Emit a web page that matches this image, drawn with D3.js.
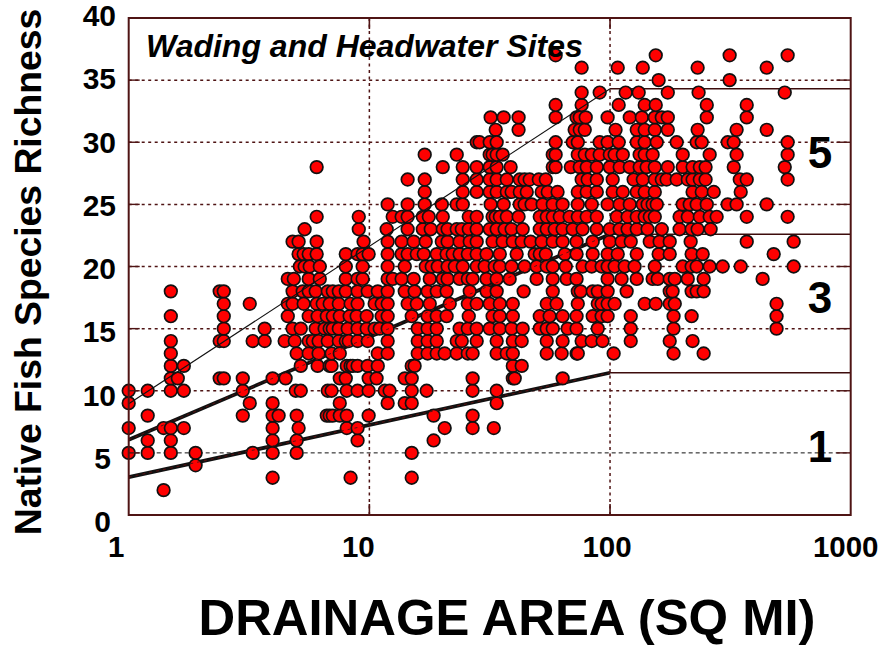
<!DOCTYPE html>
<html><head><meta charset="utf-8">
<style>html,body{margin:0;background:#fff}svg{display:block}text{font-family:"Liberation Sans",Arial,sans-serif;font-weight:bold;fill:#000}</style>
<script src="https://cdn.jsdelivr.net/npm/d3@7"></script></head><body><div id="c"></div>
<script>
// log10(drainage area, sq mi) of each site, grouped by native species count
const a2=[.145];
const a3=[.598,.922,1.176];
const a4=[.278];
const a5=[0,.079,.175,.278,.515,.598,.698,1.176];
const a6=[.079,.175,.598,.698,.951,1.267];
const a7=[0,.145,.175,.229,.598,.706,.906,.951,1.313,1.429,1.517];
const a8=[.079,.474,.598,.623,.698,.823,.835,.848,.877,.906,.997,1.267,1.429];
const a9=[0,.503,.598,.877,1.076,1.147,1.176,1.529];
const a10=[0,.079,.175,.229,.474,.694,.715,.827,.843,.906,.951,.997,1.064,1.084,1.176,1.238,1.429,1.529];
const a11=[.175,.204,.378,.395,.474,.598,.652,.877,.902,.997,1.030,1.147,1.176,1.429,1.596,1.604,1.803];
const a12=[.175,.229,.715,.785,.835,.843,.906,.922,.931,.951,.993,1.035,1.176,1.188,1.596,1.633];
const a13=[.175,.698,.748,.789,.843,.877,1.035,1.076,1.201,1.242,1.280,1.313,1.363,1.409,1.429,1.529,1.571,1.596,1.737,1.799,1.861,1.866,2.015,2.264,2.389];
const a14=[.175,.378,.395,.515,.565,.648,.690,.748,.765,.789,.827,.873,.902,.914,.951,.993,1.076,1.201,1.242,1.280,1.363,1.384,1.446,1.529,1.596,1.633,1.737,1.803,1.882,1.924,1.969,2.086,2.248,2.343];
const a15=[.395,.565,.681,.715,.777,.814,.835,.848,.873,.910,.951,.989,1.022,1.043,1.076,1.201,1.242,1.280,1.375,1.409,1.446,1.500,1.542,1.591,1.637,1.708,1.737,1.762,1.824,1.861,1.949,2.086,2.264,2.692];
const a16=[.175,.395,.661,.748,.785,.823,.848,.877,.918,.947,.989,1.051,1.076,1.176,1.242,1.280,1.321,1.413,1.512,1.542,1.596,1.708,1.749,1.803,1.861,1.928,1.965,1.990,2.086,2.264,2.339,2.692];
const a17=[.395,.503,.661,.681,.727,.781,.806,.835,.873,.922,.951,1.022,1.051,1.076,1.159,1.197,1.251,1.334,1.409,1.446,1.500,1.542,1.596,1.737,1.778,1.866,1.949,1.965,1.990,2.019,2.144,2.190,2.248,2.269,2.692];
const a18=[.175,.378,.395,.681,.723,.748,.777,.827,.848,.873,.902,.951,.993,1.035,1.076,1.147,1.188,1.242,1.280,1.321,1.417,1.487,1.529,1.641,1.762,1.866,1.878,1.928,1.949,1.990,2.069,2.248,2.260,2.339,2.360,2.389];
const a19=[.661,.686,.748,.794,.902,.951,.972,1.076,1.097,1.134,1.184,1.251,1.305,1.325,1.375,1.409,1.429,1.487,1.529,1.583,1.695,1.762,1.820,1.861,1.990,2.048,2.111,2.177,2.198,2.248,2.269,2.323,2.389,2.634];
const a20=[.711,.731,.752,.794,.902,.972,1.076,1.147,1.234,1.259,1.284,1.325,1.355,1.388,1.446,1.479,1.521,1.542,1.591,1.645,1.695,1.737,1.762,1.816,1.886,1.924,1.965,1.990,2.019,2.061,2.102,2.186,2.302,2.339,2.360,2.414,2.468,2.543,2.763];
const a21=[.706,.727,.748,.781,.902,.951,.972,.997,1.076,1.134,1.159,1.197,1.226,1.280,1.321,1.346,1.375,1.409,1.446,1.487,1.542,1.612,1.687,1.708,1.733,1.812,1.861,1.928,1.990,2.032,2.111,2.202,2.248,2.339,2.385,2.680];
const a22=[.681,.706,.781,.976,1.076,1.134,1.184,1.234,1.301,1.325,1.375,1.417,1.446,1.512,1.554,1.596,1.633,1.670,1.716,1.762,1.803,1.861,1.928,1.999,2.048,2.086,2.165,2.206,2.248,2.335,2.568,2.763];
const a23=[.731,.956,1.072,1.159,1.222,1.255,1.305,1.325,1.363,1.384,1.413,1.446,1.500,1.529,1.562,1.591,1.637,1.708,1.737,1.770,1.803,1.845,1.886,1.945,1.999,2.040,2.073,2.111,2.156,2.215,2.289,2.339,2.364,2.418];
const a24=[.781,.956,1.097,1.134,1.159,1.222,1.247,1.305,1.413,1.446,1.512,1.525,1.542,1.571,1.620,1.708,1.737,1.762,1.791,1.832,1.866,1.903,1.945,2.028,2.073,2.111,2.144,2.165,2.186,2.289,2.323,2.373,2.414,2.443,2.568,2.738];
const a25=[1.076,1.159,1.230,1.301,1.363,1.388,1.504,1.558,1.625,1.645,1.674,1.720,1.762,1.803,1.866,1.924,1.990,2.040,2.082,2.136,2.156,2.177,2.194,2.302,2.331,2.360,2.402,2.489,2.526,2.651];
const a26=[1.230,1.388,1.446,1.500,1.529,1.571,1.591,1.625,1.654,1.716,1.741,1.782,1.866,1.903,1.945,2.011,2.053,2.111,2.144,2.186,2.343,2.381,2.431,2.543];
const a27=[1.159,1.230,1.388,1.446,1.500,1.529,1.571,1.625,1.645,1.666,1.704,1.733,1.882,1.907,1.945,2.011,2.098,2.136,2.186,2.215,2.235,2.277,2.323,2.343,2.373,2.397,2.539,2.568,2.738];
const a28=[.781,1.305,1.388,1.446,1.500,1.529,1.587,1.762,1.774,1.837,1.874,1.903,1.945,1.999,2.040,2.082,2.123,2.152,2.186,2.240,2.302,2.343,2.373,2.397,2.514,2.726];
const a29=[1.230,1.363,1.500,1.512,1.529,1.554,1.762,1.774,1.866,1.895,1.924,1.957,1.999,2.019,2.053,2.123,2.144,2.177,2.302,2.414,2.526,2.738];
const a30=[1.446,1.458,1.500,1.529,1.774,1.845,1.866,1.957,1.990,2.036,2.111,2.144,2.194,2.277,2.360,2.381,2.489,2.514,2.738];
const a31=[1.525,1.620,1.853,1.874,1.895,2.023,2.111,2.144,2.186,2.240,2.364,2.526,2.651];
const a32=[1.504,1.558,1.620,1.774,1.861,1.874,1.899,1.990,2.082,2.132,2.186,2.215,2.240,2.402,2.568];
const a33=[1.774,1.882,2.036,2.144,2.190,2.402,2.568];
const a34=[1.882,1.957,2.065,2.119,2.240,2.368,2.726];
const a35=[2.202,2.497];
const a36=[1.882,2.032,2.136,2.364,2.651];
const a37=[1.774,2.190,2.497,2.738];
const richnessRows=[[2,a2],[3,a3],[4,a4],[5,a5],[6,a6],[7,a7],[8,a8],[9,a9],[10,a10],[11,a11],[12,a12],[13,a13],[14,a14],[15,a15],[16,a16],[17,a17],[18,a18],[19,a19],[20,a20],[21,a21],[22,a22],[23,a23],[24,a24],[25,a25],[26,a26],[27,a27],[28,a28],[29,a29],[30,a30],[31,a31],[32,a32],[33,a33],[34,a34],[35,a35],[36,a36],[37,a37]];

const xTicks=[1,10,100,1000];
const yTicks=[0,5,10,15,20,25,30,35,40];
// Maximum species richness lines: [species at 1 sq mi, species at 100 sq mi]
const upperLine=[8.95,34.3];
const middleLine=[6.05,22.6];
const lowerLine=[3.05,11.45];
const classLabels=[["5",27.9],["3",16.25],["1",4.3]];

const W=884,H=648,L=128.7,R=850.7,T=18,B=515;
const maroon="#4f1414";
const x=d3.scaleLog().domain([1,1000]).range([L,R]);
const y=d3.scaleLinear().domain([0,40]).range([B,T]);
const yLabel=d3.scaleLinear().domain([0,40]).range([532,26]);
const svg=d3.select("#c").append("svg").attr("width",W).attr("height",H);

// grid
svg.append("g").selectAll("line").data(yTicks.slice(1,-1)).join("line")
 .attr("x1",L).attr("x2",R).attr("y1",d=>y(d)).attr("y2",d=>y(d))
 .attr("stroke",d=>d===5?"#111":maroon).attr("stroke-width",d=>d===5?1:1.5).attr("stroke-dasharray",d=>d===5?"4 3":"3 3.5");
svg.append("g").selectAll("line").data(xTicks.slice(1,-1)).join("line")
 .attr("x1",d=>x(d)).attr("x2",d=>x(d)).attr("y1",T).attr("y2",B)
 .attr("stroke",maroon).attr("stroke-width",1.5).attr("stroke-dasharray","3 3.5");

// plateau lines beyond 100 sq mi
[upperLine,middleLine,lowerLine].forEach(l=>{
 svg.append("line").attr("x1",x(100)).attr("x2",R).attr("y1",y(l[1])).attr("y2",y(l[1])).attr("stroke","#3d0c0c").attr("stroke-width",1.4);
});
// thick lines under the points
[middleLine,lowerLine].forEach(l=>{
 svg.append("line").attr("x1",x(1)).attr("x2",x(100)).attr("y1",y(l[0])).attr("y2",y(l[1])).attr("stroke","#111").attr("stroke-width",3.8);
});

// points
const pts=richnessRows.flatMap(([r,vals])=>vals.map(v=>({area:Math.pow(10,v),r})));
pts.sort((a,b)=>a.area-b.area);
svg.append("g").selectAll("circle").data(pts).join("circle")
 .attr("cx",d=>x(d.area)).attr("cy",d=>y(d.r)).attr("r",6.3)
 .attr("fill","#ff0000").attr("stroke","#111").attr("stroke-width",1.7);

// overlays on top of points
[middleLine,lowerLine].forEach(l=>{
 svg.append("line").attr("x1",x(1)).attr("x2",x(100)).attr("y1",y(l[0])).attr("y2",y(l[1])).attr("stroke","#5a1010").attr("stroke-width",1).attr("stroke-dasharray","3 4");
});
svg.append("line").attr("x1",x(1)).attr("x2",x(100)).attr("y1",y(upperLine[0])).attr("y2",y(upperLine[1])).attr("stroke","#111").attr("stroke-width",1.1);

// frame and ticks
const tickLen=11;
svg.append("g").selectAll("line").data(yTicks.slice(1,-1)).join("line")
 .attr("x1",R-tickLen*1.3).attr("x2",R).attr("y1",d=>y(d)).attr("y2",d=>y(d)).attr("stroke",maroon).attr("stroke-width",1.4);
svg.append("g").selectAll("line").data(yTicks.slice(1,-1)).join("line")
 .attr("x1",L).attr("x2",L+tickLen).attr("y1",d=>y(d)).attr("y2",d=>y(d)).attr("stroke",maroon).attr("stroke-width",1.4);
svg.append("g").selectAll("line").data(xTicks.slice(1,-1)).join("line")
 .attr("x1",d=>x(d)).attr("x2",d=>x(d)).attr("y1",B).attr("y2",B-tickLen).attr("stroke",maroon).attr("stroke-width",1.6);
svg.append("g").selectAll("line").data(xTicks.slice(1,-1)).join("line")
 .attr("x1",d=>x(d)).attr("x2",d=>x(d)).attr("y1",T).attr("y2",T+tickLen).attr("stroke",maroon).attr("stroke-width",1.6);
svg.append("rect").attr("x",L).attr("y",T).attr("width",R-L).attr("height",B-T).attr("fill","none").attr("stroke",maroon).attr("stroke-width",2);

// tick labels
svg.append("g").selectAll("text").data(yTicks).join("text")
 .attr("x",d=>d<10?111:116).attr("y",d=>yLabel(d)).attr("text-anchor","end").attr("font-size",30).text(d=>d);
const xLabelShift={1:-12.5,10:-11,100:-3,1000:-5};
svg.append("g").selectAll("text").data(xTicks).join("text")
 .attr("x",d=>x(d)+xLabelShift[d]).attr("y",557).attr("text-anchor","middle").attr("font-size",29.5).text(d=>d);

// titles
svg.append("text").attr("x",507).attr("y",635).attr("text-anchor","middle").attr("font-size",50.8).text("DRAINAGE AREA (SQ MI)");
svg.append("text").attr("transform","translate(41,272) rotate(-90)").attr("text-anchor","middle").attr("font-size",37.3).text("Native Fish Species Richness");
svg.append("text").attr("x",146).attr("y",57).attr("font-size",32).attr("font-style","italic").text("Wading and Headwater Sites");
svg.append("g").selectAll("text").data(classLabels).join("text")
 .attr("x",820).attr("y",d=>y(d[1])).attr("text-anchor","middle").attr("font-size",44).text(d=>d[0]);
</script></body></html>
